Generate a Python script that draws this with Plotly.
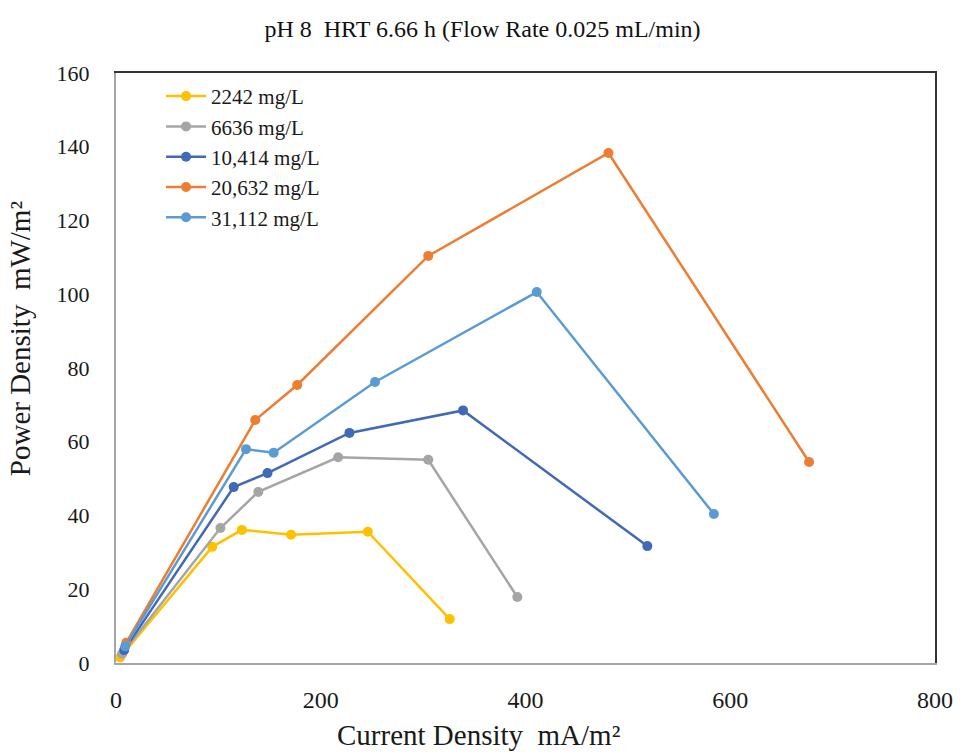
import plotly.graph_objects as go

series_names = ["2242 mg/L", "6636 mg/L", "10,414 mg/L", "20,632 mg/L", "31,112 mg/L"]
colors = ["#FFC000", "#A5A5A5", "#4169B8", "#ED7D31", "#5B9BD5"]

x_2242 = [4, 94, 123, 171, 246, 326]
y_2242 = [1.5, 31.5, 36.1, 34.8, 35.6, 11.9]

x_6636 = [6, 102, 139, 217, 305, 392]
y_6636 = [2.5, 36.6, 46.4, 55.8, 55.1, 17.9]

x_10414 = [8, 115, 148, 228, 339, 519]
y_10414 = [3.5, 47.7, 51.5, 62.4, 68.5, 31.7]

x_20632 = [10, 136, 177, 305, 481, 677]
y_20632 = [5.5, 65.9, 75.4, 110.4, 138.3, 54.5]

x_31112 = [9, 127, 154, 253, 411, 584]
y_31112 = [4.5, 58.0, 57.0, 76.2, 100.6, 40.4]

xs = [x_2242, x_6636, x_10414, x_20632, x_31112]
ys = [y_2242, y_6636, y_10414, y_20632, y_31112]

x_ticks = [0, 200, 400, 600, 800]
y_ticks = [0, 20, 40, 60, 80, 100, 120, 140, 160]

fig = go.Figure()
for name, c, x, y in zip(series_names, colors, xs, ys):
    fig.add_trace(go.Scatter(
        x=x, y=y, name=name, mode="lines+markers",
        line=dict(color=c, width=2.5),
        marker=dict(color=c, size=10),
    ))

font_family = "Liberation Serif"
txt = "#1a1a1a"
fig.update_layout(
    width=965, height=753,
    margin=dict(l=116, r=26, t=73, b=90),
    paper_bgcolor="white", plot_bgcolor="white",
    font=dict(family=font_family, color=txt),
    title=dict(text="pH 8  HRT 6.66 h (Flow Rate 0.025 mL/min)",
               x=0.5, xanchor="center", y=0.962, yanchor="middle",
               font=dict(size=24, family=font_family, color="#111111")),
    showlegend=True,
    legend=dict(x=0.055, y=0.995, xanchor="left", yanchor="top",
                bgcolor="rgba(255,255,255,0)", font=dict(size=21, family=font_family, color=txt),
                tracegroupgap=0, itemwidth=40),
    xaxis=dict(range=[0, 800], tickvals=x_ticks, ticktext=[str(v) for v in x_ticks],
               showgrid=False, zeroline=False, showline=True, linecolor="#A6A6A6", linewidth=2,
               ticks="", ticklabelstandoff=14, tickfont=dict(size=24, family=font_family, color=txt)),
    yaxis=dict(range=[0, 160], tickvals=y_ticks, ticktext=[str(v) for v in y_ticks],
               showgrid=False, zeroline=False, showline=True, linecolor="#A6A6A6", linewidth=2,
               ticks="", ticklabelstandoff=20, tickfont=dict(size=22, family=font_family, color=txt)),
    xaxis2=dict(overlaying="x", side="top", range=[0, 800], showline=True, linecolor="#333333",
                linewidth=2, showticklabels=False, showgrid=False, zeroline=False, ticks=""),
    yaxis2=dict(overlaying="y", side="right", range=[0, 160], showline=True, linecolor="#333333",
                linewidth=2, showticklabels=False, showgrid=False, zeroline=False, ticks=""),
    annotations=[
        dict(text="Current Density  mA/m²", xref="paper", yref="paper",
             x=(481 - 116) / 823, y=-0.122, xanchor="center", yanchor="middle",
             showarrow=False, font=dict(size=29, family=font_family, color=txt)),
        dict(text="Power Density  mW/m²", xref="paper", yref="paper",
             x=-0.117, y=(663 - 338) / 590, xanchor="center", yanchor="middle", textangle=-90,
             showarrow=False, font=dict(size=29, family=font_family, color=txt)),
    ],
)
# invisible trace to activate the top/right frame axes
fig.add_trace(go.Scatter(x=[None], y=[None], xaxis="x2", yaxis="y2", showlegend=False, hoverinfo="skip"))

fig.write_html("out.html")
